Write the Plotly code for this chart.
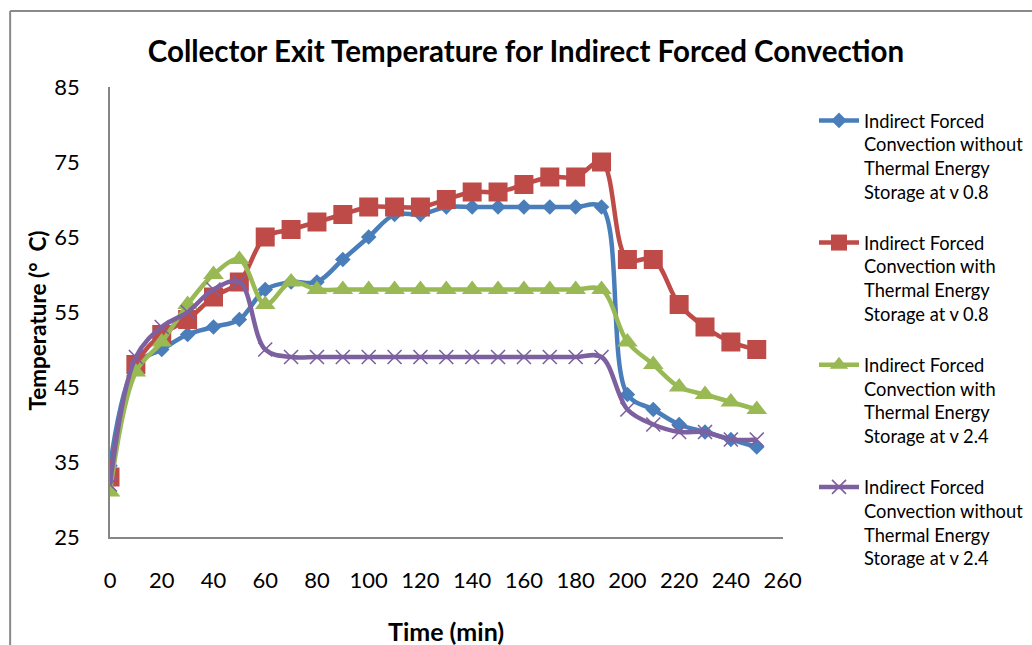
import plotly.graph_objects as go

time_min = [0, 10, 20, 30, 40, 50, 60, 70, 80, 90, 100, 110, 120, 130, 140, 150, 160, 170, 180, 190, 200, 210, 220, 230, 240, 250]

without_tes_v08 = [34.5, 48, 50, 52, 53, 54, 58, 59, 59, 62, 65, 68, 68, 69, 69, 69, 69, 69, 69, 69, 44, 42, 40, 39, 38, 37]
with_tes_v08 = [33, 48, 52, 54, 57, 59, 65, 66, 67, 68, 69, 69, 69, 70, 71, 71, 72, 73, 73, 75, 62, 62, 56, 53, 51, 50]
with_tes_v24 = [31, 47, 51, 56, 60, 62, 56, 59, 58, 58, 58, 58, 58, 58, 58, 58, 58, 58, 58, 58, 51, 48, 45, 44, 43, 42]
without_tes_v24 = [32, 49, 53, 55, 58, 59, 50, 49, 49, 49, 49, 49, 49, 49, 49, 49, 49, 49, 49, 49, 42, 40, 39, 39, 38, 38]

series_names = [
    "Indirect Forced<br>Convection without<br>Thermal Energy<br>Storage at v 0.8",
    "Indirect Forced<br>Convection with<br>Thermal Energy<br>Storage at v 0.8",
    "Indirect Forced<br>Convection with<br>Thermal Energy<br>Storage at v 2.4",
    "Indirect Forced<br>Convection without<br>Thermal Energy<br>Storage at v 2.4",
]
series_values = [without_tes_v08, with_tes_v08, with_tes_v24, without_tes_v24]
colors = ["#4A7EBB", "#BE4B48", "#98B954", "#7D60A0"]
symbols = ["diamond", "square", "triangle-up", "x-thin"]
sizes = [12, 19, 18, 14]

title_text = "Collector Exit Temperature for Indirect Forced Convection"
x_title = "Time (min)"
y_title = "Temperature (°  C)"
y_ticks = [25, 35, 45, 55, 65, 75, 85]
x_ticks = list(range(0, 261, 20))

FONT = "Lato"

fig = go.Figure()
for i, (name, vals) in enumerate(zip(series_names, series_values)):
    marker = dict(symbol=symbols[i], size=sizes[i], color=colors[i])
    if symbols[i] == "x-thin":
        marker["line"] = dict(color=colors[i], width=1.6)
    else:
        marker["line"] = dict(width=0)
    fig.add_trace(go.Scatter(
        x=time_min, y=vals, name=name, mode="lines+markers",
        line=dict(color=colors[i], width=4.5, shape="spline", smoothing=1.0),
        marker=marker, legendgroup=f"g{i}",
    ))

fig.update_layout(
    width=1032, height=645,
    margin=dict(l=110, r=235, t=87, b=108),
    paper_bgcolor="white", plot_bgcolor="white",
    font=dict(family=FONT, color="black"),
    showlegend=True,
    title=dict(text=title_text, x=(526 / 1032), xanchor="center", y=1 - 52 / 645, yanchor="middle",
               font=dict(family=FONT, size=29.5, color="black", weight="bold")),
    legend=dict(xref="container", yref="container",
                x=814 / 1032, xanchor="left", y=1 - 102 / 645, yanchor="top",
                font=dict(family=FONT, size=18.3, color="black"),
                tracegroupgap=24, valign="top", bgcolor="rgba(0,0,0,0)",
                itemwidth=40, maxheight=620),
    annotations=[
        dict(text=f"<b>{y_title}</b>", xref="paper", yref="paper",
             x=(35 - 110) / 687, y=(537 - 321) / 450, xanchor="center", yanchor="middle",
             textangle=-90, showarrow=False,
             font=dict(family=FONT, size=22.5, color="black")),
        dict(text=f"<b>{x_title}</b>", xref="paper", yref="paper",
             x=(453 - 110) / 687, y=(537 - 631) / 450, xanchor="center", yanchor="middle",
             showarrow=False,
             font=dict(family=FONT, size=25, color="black")),
    ],
)

fig.update_xaxes(
    range=[0, 260], tickvals=x_ticks, showgrid=False, zeroline=False,
    showline=True, linecolor="#868686", linewidth=1.5,
    ticks="outside", ticklen=23, tickcolor="rgba(0,0,0,0)",
    tickfont=dict(family=FONT, size=22, color="black"),
)
fig.update_yaxes(
    range=[25, 85], tickvals=y_ticks, showgrid=False, zeroline=False,
    showline=True, linecolor="#868686", linewidth=1.5,
    ticks="outside", ticklen=24, tickcolor="rgba(0,0,0,0)",
    tickfont=dict(family=FONT, size=22, color="black"),
)

# chart area border (left and top edges visible in the reference)
fig.add_shape(type="line", xref="paper", yref="paper",
              x0=(8 - 110) / 687, x1=(8 - 110) / 687, y0=-1, y1=(537 - 11) / 450,
              line=dict(color="#8A8A8A", width=2))
fig.add_shape(type="line", xref="paper", yref="paper",
              x0=(8 - 110) / 687, x1=2, y0=(537 - 11) / 450, y1=(537 - 11) / 450,
              line=dict(color="#8A8A8A", width=2))

fig.write_html("out.html")
